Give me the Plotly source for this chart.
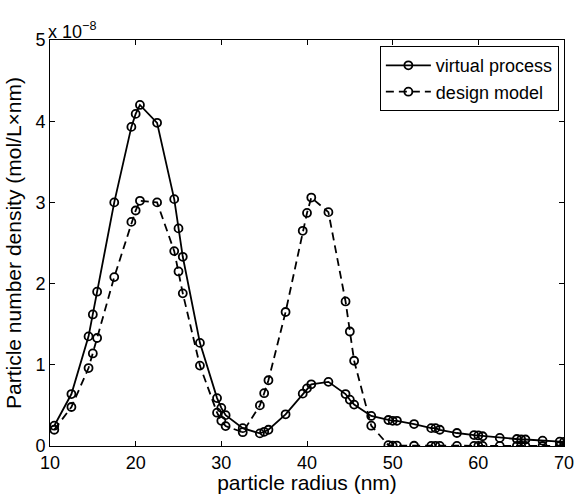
import plotly.graph_objects as go

radius = [10.5, 12.5, 14.5, 15, 15.5, 17.5, 19.5, 20, 20.5, 22.5, 24.5, 25, 25.5, 27.5,
          29.5, 30, 30.5, 32.5, 34.5, 35, 35.5, 37.5, 39.5, 40, 40.5, 42.5, 44.5, 45, 45.5,
          47.5, 49.5, 50, 50.5, 52.5, 54.5, 55, 55.5, 57.5, 59.5, 60, 60.5, 62.5, 64.5, 65,
          65.5, 67.5, 69.5, 70]

virtual_process = [0.25, 0.64, 1.35, 1.62, 1.90, 3.00, 3.93, 4.09, 4.20, 3.98, 3.04, 2.68,
                   2.33, 1.27, 0.59, 0.47, 0.38, 0.22, 0.155, 0.175, 0.20, 0.39, 0.645, 0.71,
                   0.76, 0.79, 0.64, 0.57, 0.51, 0.37, 0.32, 0.31, 0.31, 0.27, 0.22, 0.22, 0.20,
                   0.16, 0.135, 0.13, 0.12, 0.10, 0.086, 0.08, 0.08, 0.065, 0.053, 0.05]

design_model = [0.20, 0.48, 0.96, 1.14, 1.33, 2.08, 2.76, 2.90, 3.02, 3.00, 2.40, 2.15, 1.88,
                0.99, 0.41, 0.31, 0.245, 0.17, 0.50, 0.65, 0.81, 1.65, 2.65, 2.87, 3.06, 2.88,
                1.78, 1.41, 1.05, 0.25, 0.01, 0.005, 0.005, 0.003, 0.002, 0.002, 0.002, 0.001,
                0.001, 0.001, 0.001, 0.001, 0.0, 0.0, 0.0, 0.0, 0.0, 0.0]

scale = 1e-8
x_ticks = [10, 20, 30, 40, 50, 60, 70]
y_ticks = [0, 1, 2, 3, 4, 5]

FONT = "Liberation Sans, Arial, sans-serif"

fig = go.Figure()
fig.add_trace(go.Scatter(
    x=radius, y=[v * scale for v in virtual_process], name="virtual process",
    mode="lines+markers",
    line=dict(color="black", width=1.8),
    marker=dict(symbol="circle-open", size=8, color="black", line=dict(width=1.8)),
))
fig.add_trace(go.Scatter(
    x=radius, y=[v * scale for v in design_model], name="design model",
    mode="lines+markers",
    line=dict(color="black", width=1.8, dash="8px,5px"),
    marker=dict(symbol="circle-open", size=8, color="black", line=dict(width=1.8)),
))

axis_common = dict(showline=True, linecolor="black", linewidth=1, mirror="ticks",
                   ticks="inside", ticklen=5, tickcolor="black", showgrid=False,
                   zeroline=False, automargin=False,
                   tickfont=dict(size=18, color="black", family=FONT))

fig.update_layout(
    width=577, height=494,
    margin=dict(l=50, r=13, t=40, b=48),
    paper_bgcolor="white", plot_bgcolor="white",
    font=dict(family=FONT, color="black"),
    showlegend=True,
    legend=dict(x=0.99, y=0.985, xanchor="right", yanchor="top",
                bordercolor="black", borderwidth=1, bgcolor="white",
                font=dict(size=18, family=FONT), tracegroupgap=0,
                itemwidth=45),
    xaxis=dict(range=[10, 70], tickvals=x_ticks, ticktext=[str(t) for t in x_ticks],
               title=dict(text="particle radius (nm)", font=dict(size=21), standoff=0),
               **axis_common),
    yaxis=dict(range=[0, 5 * scale], tickvals=[t * scale for t in y_ticks],
               ticktext=[str(t) for t in y_ticks],
               title=dict(text="Particle number density (mol/L×nm)", font=dict(size=21),
                          standoff=8),
               **axis_common),
)
fig.add_annotation(x=0, y=1, xref="paper", yref="paper", xanchor="left", yanchor="bottom",
                   text="x 10<sup>−8</sup>", showarrow=False, xshift=-4, yshift=-4,
                   font=dict(size=18, family=FONT, color="black"))

fig.write_html("out.html")
